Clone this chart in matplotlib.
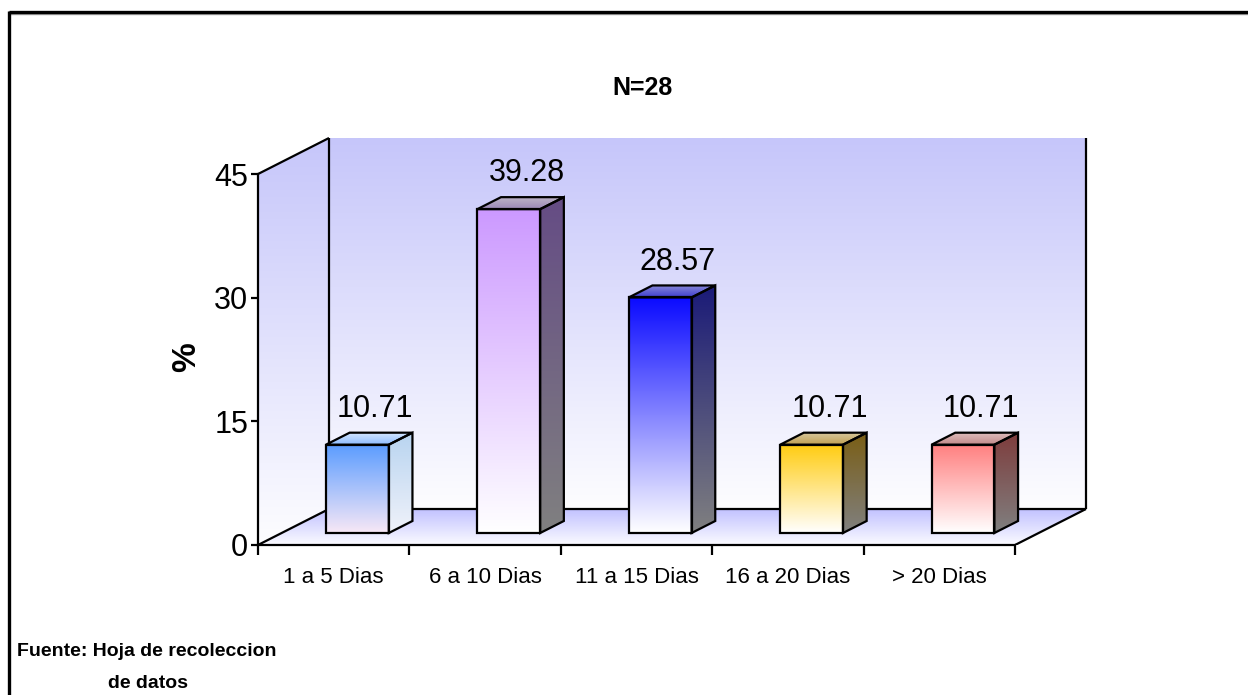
import numpy as np
import matplotlib
matplotlib.use("Agg")
import matplotlib.pyplot as plt
from matplotlib.patches import Polygon
from matplotlib.lines import Line2D
from matplotlib.colors import to_rgb

plt.rcParams['font.family'] = ['Liberation Sans', 'DejaVu Sans']

categories = ["1 a 5 Dias", "6 a 10 Dias", "11 a 15 Dias", "16 a 20 Dias", "> 20 Dias"]
values = [10.71, 39.28, 28.57, 10.71, 10.71]
value_labels = ["10.71", "39.28", "28.57", "10.71", "10.71"]
y_ticks = [0, 15, 30, 45]
title = "N=28"
y_label = "%"
source_line1 = "Fuente: Hoja de recoleccion"
source_line2 = "de datos"

# face colours per bar: (front top, front bottom, side top, side bottom, top back, top front)
bar_styles = [
    ("#5A9CFF", "#F8E8F6", "#B8D4F0", "#F0F2FA", "#D8E8FF", "#8CBCFF"),
    ("#CC99FF", "#FFFFFF", "#654C85", "#808080", "#C0B8C8", "#9C88B8"),
    ("#0A0AFF", "#FFFFFF", "#1A1A78", "#808080", "#9090D8", "#4040D0"),
    ("#FFCC10", "#FFFFFF", "#7A5E14", "#808080", "#D8C8A0", "#C0A050"),
    ("#FF7F7F", "#FFFFFF", "#7E3C3C", "#808080", "#E0C0C0", "#C08888"),
]

W, H = 1248, 695
fig = plt.figure(figsize=(W / 100, H / 100), dpi=100)

# plot area: x in category units, y in value units
x0_px, y0_px = 258, 545
cat_px = 151.4
val_px = 8.244
xmax, ymax = 5.5, 50.0
ax = fig.add_axes([x0_px / W, (H - y0_px) / H, xmax * cat_px / W, ymax * val_px / H])
ax.set_xlim(0, xmax)
ax.set_ylim(0, ymax)

n = len(categories)
ytop = max(y_ticks)
DX, DY = 0.469, 4.37          # depth of the 3-D box
ddx, ddy = DX / 3, DY / 3     # bar depth / bar offset
bw = 0.415                    # bar width


def grad_fill(verts, c_top, c_bot, z):
    verts = np.asarray(verts)
    xmin, ymin = verts.min(axis=0)
    xmx, ymx = verts.max(axis=0)
    t = np.linspace(0, 1, 256)[:, None]
    a, b = np.array(to_rgb(c_bot)), np.array(to_rgb(c_top))
    img = (a * (1 - t) + b * t)[:, None, :]
    poly = Polygon(verts, closed=True, facecolor='none', edgecolor='none',
                   transform=ax.transData)
    ax.add_patch(poly)
    im = ax.imshow(img, extent=(xmin, xmx, ymin, ymx), origin='lower',
                   aspect='auto', interpolation='bilinear', zorder=z)
    im.set_clip_path(poly)


def outline(verts, z, lw=1.6):
    ax.add_patch(Polygon(verts, closed=True, facecolor='none', edgecolor='black',
                         lw=lw, zorder=z, joinstyle='miter'))


# back wall
back = [(DX, DY), (n + DX, DY), (n + DX, ytop + DY), (DX, ytop + DY)]
grad_fill(back, "#C6C6FA", "#FDFDFF", 1)
# side wall
side = [(0, 0), (DX, DY), (DX, ytop + DY), (0, ytop)]
grad_fill(side, "#C6C6FA", "#FDFDFF", 1)
# floor
floor = [(0, 0), (n, 0), (n + DX, DY), (DX, DY)]
grad_fill(floor, "#C0C0FF", "#FBFBFF", 1)

lk = dict(color='black', lw=1.6, zorder=2, solid_capstyle='butt')
ax.plot([DX, DX], [DY, ytop + DY], **lk)
ax.plot([n + DX, n + DX], [DY, ytop + DY], **lk)
ax.plot([0, DX], [ytop, ytop + DY], **lk)
ax.plot([0, DX], [0, DY], **lk)
ax.plot([DX, n + DX], [DY, DY], **lk)
ax.plot([n, n + DX], [0, DY], **lk)

# bars
for i, (v, st) in enumerate(zip(values, bar_styles)):
    fx = i + (1 - bw) / 2 + ddx
    fy = ddy
    front = [(fx, fy), (fx + bw, fy), (fx + bw, fy + v), (fx, fy + v)]
    right = [(fx + bw, fy), (fx + bw + ddx, fy + ddy), (fx + bw + ddx, fy + ddy + v), (fx + bw, fy + v)]
    top = [(fx, fy + v), (fx + bw, fy + v), (fx + bw + ddx, fy + ddy + v), (fx + ddx, fy + ddy + v)]
    grad_fill(front, st[0], st[1], 3)
    grad_fill(right, st[2], st[3], 3)
    grad_fill(top, st[4], st[5], 3)
    outline(front, 4)
    outline(right, 4)
    outline(top, 4)
    ax.text(fx + (bw + ddx) / 2 + 0.04, v + 2 * ddy + 1.9, value_labels[i],
            ha='center', va='baseline', fontsize=22, zorder=5)

# axes
for s in ('top', 'right'):
    ax.spines[s].set_visible(False)
ax.spines['left'].set_bounds(0, ytop)
ax.spines['bottom'].set_bounds(0, n)
for s in ('left', 'bottom'):
    ax.spines[s].set_linewidth(1.6)
    ax.spines[s].set_zorder(6)
ax.set_yticks(y_ticks)
ax.set_yticklabels([str(t) for t in y_ticks], fontsize=22)
ax.tick_params(axis='y', length=5, width=1.6, pad=2)
ax.set_xticks(np.arange(n + 1))
ax.set_xticklabels([""] * (n + 1))
ax.tick_params(axis='x', length=7, width=1.6)
ax.set_xticks(np.arange(n) + 0.5, minor=True)
ax.set_xticklabels(categories, minor=True, fontsize=16)
ax.tick_params(axis='x', which='minor', length=0, pad=16)
ax.set_facecolor('none')

fig.text(643 / W, 1 - 88 / H, title, ha='center', va='center', fontsize=18, fontweight='bold')
fig.text(187 / W, 1 - 357 / H, y_label, ha='center', va='center', fontsize=24,
         fontweight='bold', rotation=90)
fig.text(17 / W, 1 - 652 / H, source_line1, ha='left', va='center', fontsize=14, fontweight='bold')
fig.text(108 / W, 1 - 683 / H, source_line2, ha='left', va='center', fontsize=14, fontweight='bold')

# chart frame
fig.add_artist(Line2D([9 / W, 1], [1 - 14 / H, 1 - 14 / H], color='#A0A0A0', lw=1.0,
                      transform=fig.transFigure))
fig.add_artist(Line2D([9 / W, 1], [1 - 12 / H, 1 - 12 / H], color='black', lw=2.4,
                      transform=fig.transFigure, solid_capstyle='butt'))
fig.add_artist(Line2D([9 / W, 9 / W], [1 - 11 / H, 0], color='black', lw=2.4,
                      transform=fig.transFigure, solid_capstyle='butt'))

fig.savefig("out.png", dpi=100)
